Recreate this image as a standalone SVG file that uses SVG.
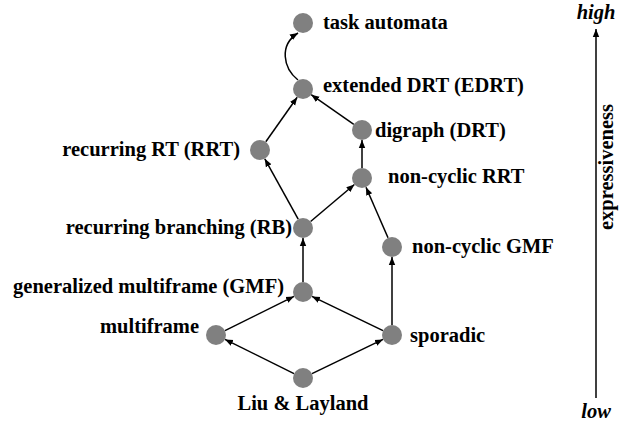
<svg xmlns="http://www.w3.org/2000/svg" width="624" height="426" viewBox="0 0 624 426">
<style>
.n circle{fill:#808080}
text{font-family:"Liberation Serif","Times New Roman",serif;font-weight:bold;font-size:20.5px;fill:#000}
.e line,.e path{stroke:#000;stroke-width:1.5;fill:none;marker-end:url(#ah)}
.ax{font-style:italic}
</style>
<defs>
<marker id="ah" markerUnits="userSpaceOnUse" markerWidth="10" markerHeight="8" refX="8" refY="4" orient="auto">
<path d="M0,0.8 L8,4 L0,7.2 z" fill="#000"/>
</marker>
</defs>
<rect width="624" height="426" fill="#fff"/>
<g id="connectors" class="e">
<line x1="294" y1="373.6" x2="225" y2="339.4"/>
<line x1="312" y1="373.6" x2="383" y2="339.4"/>
<line x1="225" y1="330.6" x2="294" y2="296.4"/>
<line x1="383" y1="330.6" x2="312" y2="296.4"/>
<line x1="392" y1="325" x2="392" y2="257"/>
<line x1="303" y1="282" x2="303" y2="238"/>
<line x1="388" y1="237.8" x2="366" y2="187.2"/>
<line x1="298.2" y1="219.2" x2="264.8" y2="158.8"/>
<line x1="310.6" y1="221.5" x2="354.4" y2="184.5"/>
<line x1="362" y1="168" x2="362" y2="140"/>
<line x1="265.8" y1="141.8" x2="297.2" y2="97.2"/>
<line x1="353.8" y1="124.3" x2="311.2" y2="94.7"/>
<path d="M298,80 C283,68 279,45 298,33"/>
<line x1="596" y1="398" x2="596" y2="29"/>
</g>
<g id="task" class="n"><circle cx="303" cy="23" r="10"/><text x="323" y="29">task automata</text></g>
<g id="edrt" class="n"><circle cx="303" cy="89" r="10"/><text x="323" y="92">extended DRT (EDRT)</text></g>
<g id="drt" class="n"><circle cx="362" cy="130" r="10"/><text x="375" y="137">digraph (DRT)</text></g>
<g id="rrt" class="n"><circle cx="260" cy="150" r="10"/><text x="240" y="156" text-anchor="end">recurring RT (RRT)</text></g>
<g id="ncrrt" class="n"><circle cx="362" cy="178" r="10"/><text x="388" y="183">non-cyclic RRT</text></g>
<g id="rb" class="n"><circle cx="303" cy="228" r="10"/><text x="292" y="234" text-anchor="end">recurring branching (RB)</text></g>
<g id="ncgmf" class="n"><circle cx="392" cy="247" r="10"/><text x="412" y="253">non-cyclic GMF</text></g>
<g id="gmf" class="n"><circle cx="303" cy="292" r="10"/><text x="284" y="293" text-anchor="end">generalized multiframe (GMF)</text></g>
<g id="mf" class="n"><circle cx="216" cy="335" r="10"/><text x="199" y="333" text-anchor="end">multiframe</text></g>
<g id="sp" class="n"><circle cx="392" cy="335" r="10"/><text x="410" y="342">sporadic</text></g>
<g id="ll" class="n"><circle cx="303" cy="378" r="10"/><text x="303" y="410" text-anchor="middle">Liu &amp; Layland</text></g>
<g id="axis">
<text class="ax" x="596" y="19" text-anchor="middle">high</text>
<text class="ax" x="596" y="418" text-anchor="middle">low</text>
<text x="0" y="0" text-anchor="middle" transform="translate(613,167) rotate(-90)">expressiveness</text>
</g>
</svg>
